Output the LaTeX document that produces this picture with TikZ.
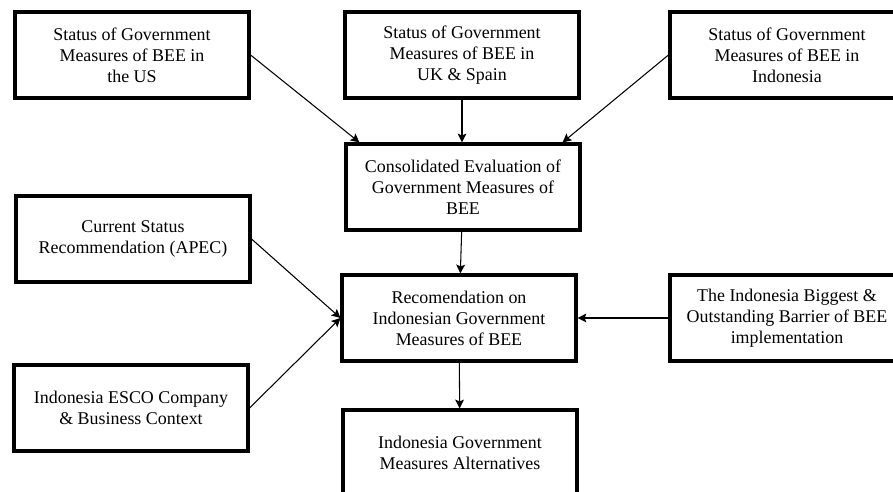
\documentclass[tikz,border=0pt]{standalone}
\usepackage{fontspec}
\setmainfont{Liberation Serif}
\newfontfamily\boxfont{Liberation Serif}
\usepackage{tikz}
\usetikzlibrary{arrows.meta}

\begin{document}
\begin{tikzpicture}[
  x=0.02cm, y=-0.02cm,
  block/.style={rectangle, draw, line width=1.8pt, fill=white,
                minimum width=4.68cm, minimum height=1.72cm,
                font=\boxfont\fontsize{10.2}{11.9}\selectfont, align=center},
  arrow/.style={-{Stealth[length=5pt,width=5pt,inset=1pt]}, line width=0.6pt},
]
  \useasboundingbox (0,0) rectangle (893,492);
  \clip (0,0) rectangle (893,492);

  % Blocks
  \node[block] (us)   at (132,55)    {Status of Government\\Measures of BEE in\\the US};
  \node[block] (uk)   at (462,55)    {Status of Government\\Measures of BEE in\\UK \& Spain};
  \node[block] (ind)  at (787,55)    {Status of Government\\Measures of BEE in\\Indonesia};
  \node[block] (cons) at (463,187)   {Consolidated Evaluation of\\Government Measures of\\BEE};
  \node[block] (apec) at (133,239)   {Current Status\\Recommendation (APEC)};
  \node[block] (rec)  at (459,318)   {Recomendation on\\Indonesian Government\\Measures of BEE};
  \node[block] (bar)  at (787,318)   {The Indonesia Biggest \&\\Outstanding Barrier of BEE\\implementation};
  \node[block] (esco) at (131,408)   {Indonesia ESCO Company\\\& Business Context};
  \node[block] (alt)  at (460,453)   {Indonesia Government\\Measures Alternatives};

  % Arrows into the evaluation
  \draw[arrow] (us.east)  -- ([xshift=0.3cm]cons.north west);
  \draw[arrow] (uk.south) -- (uk.south |- cons.north);
  \draw[arrow] (ind.west) -- ([xshift=-0.38cm]cons.north east);

  % Arrows into the recommendation
  \draw[arrow] (cons)      -- (rec);
  \draw[arrow] (apec.east) -- (rec.west);
  \draw[arrow] (esco.east) -- (rec.west);
  \draw[arrow] (bar.west)  -- (rec.east);

  % Result
  \draw[arrow] (rec) -- (alt);
\end{tikzpicture}
\end{document}
